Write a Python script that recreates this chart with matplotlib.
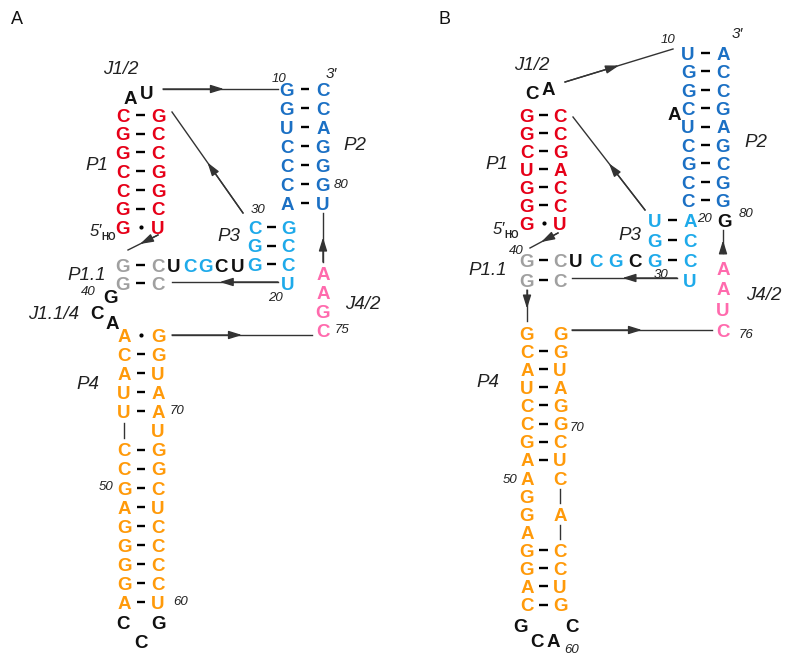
# plot.py - Sekundärstruktur-Schema (Panel A / Panel B) als matplotlib-Zeichnung
import matplotlib

matplotlib.use("Agg")
import matplotlib.pyplot as plt

plt.rcParams["font.family"] = ["Liberation Sans", "DejaVu Sans"]

# ---- Sequenzen Panel A (von oben nach unten gelesen) ----
A_P1_L, A_P1_R, A_P1_BONDS = "CGGCCGG", "GCCGGCU", "------."
A_J12 = "AU"
A_P2_L, A_P2_R, A_P2_BONDS = "GGUCCCA", "CCAGGGU", "-------"
A_P3_L, A_P3_R, A_P3_BONDS = "CGG", "GCCU", "---"
A_P11_L, A_P11_R, A_P11_BONDS = "GG", "CC", "--"
A_JUNC, A_JUNC_COL = "UCGCU", "kllkk"
A_J114 = "GCA"
A_J42 = "AAGC"
A_P4_L, A_P4_R, A_P4_BONDS = "ACAUU|CCGAGGGGA", "GGUAAUGGCUCCCCU", ".---- ---------"
A_LOOP = "CCG"
A_LABELS = ["J1/2", "P1", "P2", "P3", "P1.1", "J1.1/4", "P4", "J4/2"]
A_NUMS = ["10", "3′", "80", "30", "20", "40", "75", "70", "50", "60"]

# ---- Sequenzen Panel B ----
B_P1_L, B_P1_R, B_P1_BONDS = "GGCUGGG", "CCGACCU", "------."
B_J12 = "CA"
B_P2_L, B_P2_R, B_P2_BONDS = "UGGCUCGCC", "ACCGAGCGG", "---------"
B_BULGE = "A"
B_G80 = "G"
B_P3_L, B_P3_R, B_P3_BONDS = "UGG", "ACCU", "---"
B_P11_L, B_P11_R, B_P11_BONDS = "GG", "CC", "--"
B_JUNC, B_JUNC_COL = "UCGC", "kllk"
B_J42 = "AAUC"
B_P4_L, B_P4_R, B_P4_BONDS = "GCAUCCGAAGGAGGAC", "GGUAGGCUC|A|CCUG", " -------    ----"
B_LOOP = "GCAC"
B_LABELS = ["J1/2", "P1", "P2", "P3", "P1.1", "P4", "J4/2"]
B_NUMS = ["10", "3′", "20", "80", "40", "30", "76", "70", "50", "60"]

COLORS = {"r": "#e60018", "b": "#1b70c4", "l": "#1eaaea", "g": "#a0a0a0",
          "o": "#ff9a0a", "p": "#ff6aad", "k": "#111111"}
LINE = "#333333"
NT_SIZE = 13.5
LBL_SIZE = 13.5
NUM_SIZE = 9.5
PX_PER_PT = 100 / 72


def put(ax, x, y, s, size, color, weight="normal", style="normal", ha="center"):
    # y = optische Mitte der Grossbuchstaben
    ax.text(x, y + 0.36 * size * PX_PER_PT, s, fontsize=size, color=color,
            fontweight=weight, fontstyle=style, ha=ha, va="baseline")


def nt(ax, x, y, s, c):
    put(ax, x, y, s, NT_SIZE, COLORS[c], weight="bold")


def column(ax, x, y0, dy, seq, c):
    for i, s in enumerate(seq):
        y = y0 + i * dy
        if s == "|":
            ax.plot([x, x], [y - dy * 0.4, y + dy * 0.4], color=LINE, lw=1)
        elif s != " ":
            nt(ax, x, y, s, c)


def stem(ax, xl, xr, y0, dy, left, right, bonds, c):
    column(ax, xl, y0, dy, left, c)
    column(ax, xr, y0, dy, right, c)
    xm = (xl + xr) / 2
    for i, b in enumerate(bonds):
        y = y0 + i * dy
        if b == "-":
            ax.plot([xm - 4.2, xm + 4.2], [y, y], color="k", lw=1.7,
                    solid_capstyle="butt")
        elif b == ".":
            ax.plot(xm, y, "o", color="k", ms=2)


def row(ax, x0, step, y, seq, cols):
    for i, (s, c) in enumerate(zip(seq, cols)):
        nt(ax, x0 + i * step, y, s, c)


def arrow(ax, p0, p1, frac=0.5):
    ax.plot([p0[0], p1[0]], [p0[1], p1[1]], color=LINE, lw=1)
    tip = (p0[0] + (p1[0] - p0[0]) * frac, p0[1] + (p1[1] - p0[1]) * frac)
    ax.annotate("", xy=tip, xytext=p0,
                arrowprops=dict(arrowstyle="-|>,head_length=0.8,head_width=0.25",
                                color=LINE, lw=1, shrinkA=0, shrinkB=0))


def five_prime(ax, x, y):
    put(ax, x, y, "5′", 12, "#222222", style="italic", ha="right")
    put(ax, x - 1, y + 6, "HO", 7, "#222222", weight="bold", ha="left")


def panel_a(ax):
    put(ax, 17, 18, "A", 13, "#111111")
    stem(ax, 123, 158, 115, 18.7, A_P1_L, A_P1_R, A_P1_BONDS, "r")
    nt(ax, 130, 97, A_J12[0], "k")
    nt(ax, 147, 92, A_J12[1], "k")
    stem(ax, 287, 323, 89, 19, A_P2_L, A_P2_R, A_P2_BONDS, "b")
    stem(ax, 255, 288, 227, 18.7, A_P3_L, A_P3_R, A_P3_BONDS, "l")
    stem(ax, 123, 158, 265, 18, A_P11_L, A_P11_R, A_P11_BONDS, "g")
    row(ax, 174, 15.8, 265, A_JUNC, A_JUNC_COL)
    nt(ax, 110, 296, A_J114[0], "k")
    nt(ax, 97, 312, A_J114[1], "k")
    nt(ax, 112, 322, A_J114[2], "k")
    column(ax, 323, 273, 19, A_J42, "p")
    stem(ax, 124, 158, 335, 19.1, A_P4_L, A_P4_R, A_P4_BONDS, "o")
    nt(ax, 123, 622, A_LOOP[0], "k")
    nt(ax, 141, 641, A_LOOP[1], "k")
    nt(ax, 158, 622, A_LOOP[2], "k")

    lpos = [(121, 67), (97, 163), (355, 143), (229, 234), (87, 273),
            (54, 312), (88, 382), (363, 302)]
    for s, (x, y) in zip(A_LABELS, lpos):
        put(ax, x, y, s, LBL_SIZE, "#222222", style="italic")
    npos = [(279, 77), (331, 72), (341, 183), (258, 208), (275, 296),
            (88, 290), (342, 328), (177, 409), (106, 485), (181, 600)]
    for s, (x, y) in zip(A_NUMS, npos):
        put(ax, x, y, s, NUM_SIZE if s != "3′" else 11, "#222222", style="italic")
    five_prime(ax, 102, 230)

    arrow(ax, (163, 89), (278, 89), 0.53)
    arrow(ax, (243, 213), (172, 112), 0.5)
    arrow(ax, (158, 235), (128, 250), 0.6)
    arrow(ax, (278, 282), (172, 282), 0.55)
    arrow(ax, (323, 262), (323, 213), 0.5)
    arrow(ax, (172, 335), (312, 335), 0.5)


def panel_b(ax):
    put(ax, 445, 18, "B", 13, "#111111")
    stem(ax, 688, 723, 53, 18.4, B_P2_L, B_P2_R, B_P2_BONDS, "b")
    nt(ax, 674, 113, B_BULGE, "k")
    stem(ax, 527, 560, 115, 18, B_P1_L, B_P1_R, B_P1_BONDS, "r")
    nt(ax, 532, 92, B_J12[0], "k")
    nt(ax, 548, 88, B_J12[1], "k")
    stem(ax, 655, 690, 220, 20, B_P3_L, B_P3_R, B_P3_BONDS, "l")
    nt(ax, 724, 220, B_G80, "k")
    stem(ax, 527, 560, 260, 20, B_P11_L, B_P11_R, B_P11_BONDS, "g")
    row(ax, 576, 19.7, 260, B_JUNC, B_JUNC_COL)
    column(ax, 723, 268, 20.7, B_J42, "p")
    stem(ax, 527, 560, 333, 18.1, B_P4_L, B_P4_R, B_P4_BONDS, "o")
    for s, (x, y) in zip(B_LOOP, [(520, 625), (537, 640), (553, 640), (572, 625)]):
        nt(ax, x, y, s, "k")

    lpos = [(532, 63), (497, 162), (756, 140), (630, 233), (488, 268),
            (488, 380), (764, 293)]
    for s, (x, y) in zip(B_LABELS, lpos):
        put(ax, x, y, s, LBL_SIZE, "#222222", style="italic")
    npos = [(668, 38), (737, 33), (704, 217), (746, 212), (516, 249),
            (661, 273), (746, 333), (577, 426), (510, 478), (572, 648)]
    for s, (x, y) in zip(B_NUMS, npos):
        put(ax, x, y, s, NUM_SIZE if s != "3′" else 11, "#222222", style="italic")
    five_prime(ax, 505, 228)

    arrow(ax, (565, 82), (673, 49), 0.5)
    arrow(ax, (645, 210), (573, 117), 0.5)
    arrow(ax, (558, 233), (530, 248), 0.6)
    arrow(ax, (677, 278), (572, 278), 0.52)
    arrow(ax, (723, 253), (723, 230), 0.55)
    arrow(ax, (527, 290), (527, 321), 0.6)
    arrow(ax, (572, 330), (712, 330), 0.5)


fig = plt.figure(figsize=(7.85, 6.55), dpi=100)
ax = fig.add_axes([0, 0, 1, 1])
ax.set_xlim(0, 785)
ax.set_ylim(655, 0)
ax.axis("off")
panel_a(ax)
panel_b(ax)
fig.savefig("out.png", dpi=100)
plt.close(fig)
